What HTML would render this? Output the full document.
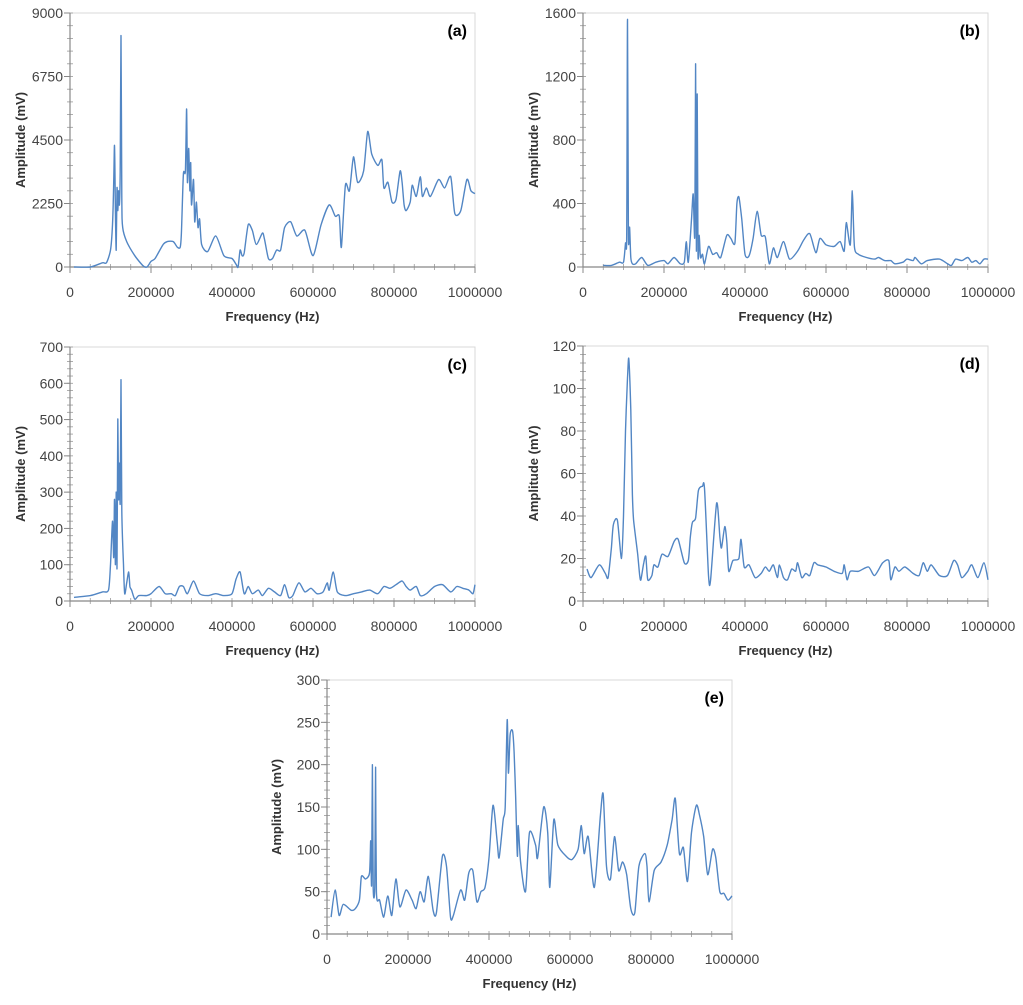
<!DOCTYPE html>
<html><head><meta charset="utf-8"><style>
body{margin:0;background:#fff;}
svg text{font-family:"Liberation Sans",sans-serif;}
</style></head><body>
<svg id="fig" width="1023" height="1000" viewBox="0 0 1023 1000"></svg>
<script>
const freqA=[10,50,80,90,100,105,108,110,112,114,116,118,120,122,124,126,128,130,140,160,180,190,200,210,230,240,255,265,272,275,280,285,288,290,293,296,298,300,305,308,312,316,320,325,340,360,380,400,410,415,420,425,430,440,450,460,475,480,490,500,510,520,530,545,560,580,600,620,640,655,665,670,680,690,700,710,725,735,745,760,770,775,785,795,805,815,820,825,830,840,845,855,865,870,880,890,910,925,940,950,965,980,990,1000];
const ampA=[0,0,150,150,600,1500,3000,4300,2000,600,2800,2000,2700,2200,3400,8200,2500,1400,900,400,50,0,200,300,800,900,900,700,700,1200,3300,3400,5600,3000,4200,2700,3700,2200,3100,1600,2300,1400,1700,800,550,1100,400,300,100,0,600,400,500,1500,1300,800,1200,1000,300,300,600,600,1400,1600,1100,1300,400,1500,2200,1800,1800,700,2900,2700,3900,3000,3400,4800,4000,3600,3800,2800,3000,2300,2400,3400,3000,2200,2000,2300,2900,2500,3200,2500,2800,2500,3100,2800,3200,1900,2000,3100,2700,2600];
const freqB=[50,70,90,100,105,108,110,112,115,118,122,130,145,160,180,200,210,225,240,250,255,260,268,272,276,278,280,282,284,287,290,295,300,310,320,330,340,355,365,375,380,385,392,400,410,420,430,440,450,460,470,480,495,510,530,545,560,575,585,600,620,635,645,650,660,665,670,680,700,720,730,745,760,770,790,800,815,820,835,850,880,900,910,920,935,950,960,970,980,990,1000];
const ampB=[10,10,30,30,150,200,1560,200,250,60,20,20,60,10,30,40,20,60,20,30,160,30,300,460,200,1280,100,1090,80,200,60,80,20,130,80,90,60,200,180,150,400,440,300,80,70,180,350,200,190,20,120,60,160,50,100,170,210,90,180,140,130,160,100,280,140,480,130,80,60,50,60,40,40,20,30,50,40,60,20,40,50,20,10,50,40,60,30,40,20,50,50];
const freqC=[10,50,80,95,100,105,108,110,112,114,116,118,120,122,124,126,128,132,135,140,145,148,152,160,170,190,200,220,235,250,260,270,280,290,305,320,340,360,380,400,410,420,430,440,450,465,475,490,505,520,530,540,550,565,580,595,610,625,635,640,650,660,680,700,720,740,760,775,790,805,820,830,840,855,865,880,900,920,940,955,970,985,995,1000];
const ampC=[10,15,25,30,100,220,120,280,100,300,90,500,280,380,270,610,250,100,20,50,80,40,30,5,15,15,20,40,20,20,15,40,40,20,55,20,15,20,15,20,60,80,20,40,20,30,15,35,25,15,45,10,15,50,25,35,20,25,50,30,80,25,15,20,25,30,20,40,35,45,55,40,30,40,15,20,40,45,25,40,35,30,20,45];
const freqD=[10,20,40,55,62,70,75,85,95,100,105,110,113,118,122,125,135,140,143,150,155,160,170,175,185,195,210,225,235,250,260,265,270,278,285,295,300,310,315,330,338,342,350,355,360,370,385,390,398,410,425,440,450,460,470,480,485,495,505,515,525,530,540,550,560,570,580,600,620,640,645,652,660,680,705,720,740,755,760,770,780,795,815,830,840,850,860,880,900,915,925,935,950,960,975,990,1000];
const ampD=[15,11,17,13,11,25,36,38,20,40,80,105,114,90,50,38,22,12,10,18,21,10,12,17,16,22,21,28,29,18,19,30,37,39,52,54,53,12,10,46,30,25,35,28,14,19,20,29,16,17,11,13,16,14,17,11,17,11,10,15,14,18,11,13,12,18,17,16,14,13,17,10,14,14,16,12,18,19,10,16,14,16,13,12,18,14,17,12,12,19,17,11,14,17,11,18,10];
const freqE=[10,20,30,40,60,70,80,85,95,105,108,110,112,114,118,120,122,130,140,150,160,170,180,195,210,220,230,240,250,262,270,285,295,305,312,330,340,350,360,370,380,390,400,410,420,425,435,440,445,448,452,458,462,466,470,472,478,490,500,515,520,535,545,550,560,570,590,605,620,628,635,645,660,675,682,690,700,710,720,730,740,750,760,770,785,790,795,808,825,840,852,860,870,880,890,900,912,920,930,940,952,960,970,980,990,1000];
const ampE=[20,52,22,35,28,30,40,68,65,72,110,58,200,55,57,197,50,40,20,45,22,65,32,52,40,30,50,38,68,28,25,92,80,20,22,52,40,72,75,38,50,55,90,152,110,90,135,150,253,190,235,240,215,160,92,128,85,50,120,105,90,150,120,55,135,105,92,88,100,128,95,115,55,140,165,80,65,115,75,85,70,30,25,80,95,80,38,75,85,105,135,160,95,102,62,120,152,140,115,70,100,90,50,48,40,45];
const yTicksA=[0,2250,4500,6750,9000], yTicksB=[0,400,800,1200,1600], yTicksC=[0,100,200,300,400,500,600,700], yTicksD=[0,20,40,60,80,100,120], yTicksE=[0,50,100,150,200,250,300];
const xTicks=[0,200000,400000,600000,800000,1000000];

const NS="http://www.w3.org/2000/svg";
const svg=document.getElementById('fig');
function mk(tag,attrs,parent){const e=document.createElementNS(NS,tag);for(const k in attrs)e.setAttribute(k,attrs[k]);(parent||svg).appendChild(e);return e;}

function smoothPath(P){
  let d='M'+P[0][0].toFixed(1)+','+P[0][1].toFixed(1);
  for(let i=0;i<P.length-1;i++){
    const p0=P[Math.max(0,i-1)],p1=P[i],p2=P[i+1],p3=P[Math.min(P.length-1,i+2)];
    const k=1/8;
    const c1=[p1[0]+(p2[0]-p0[0])*k,p1[1]+(p2[1]-p0[1])*k];
    const c2=[p2[0]-(p3[0]-p1[0])*k,p2[1]-(p3[1]-p1[1])*k];
    d+=' C'+c1[0].toFixed(1)+','+c1[1].toFixed(1)+' '+c2[0].toFixed(1)+','+c2[1].toFixed(1)+' '+p2[0].toFixed(1)+','+p2[1].toFixed(1);
  }
  return d;
}

function panel(id,x0,x1,yT,yB,freq,amp,yTicks,label,ytx){
  const g=mk('g',{});
  
  
  const yMax=yTicks[yTicks.length-1];
  const sx=f=>x0+(f/1000000)*(x1-x0);
  const sy=v=>yB-(v/yMax)*(yB-yT);
  const frame=mk('rect',{x:x0,y:yT,width:x1-x0,height:yB-yT,fill:'none',stroke:'#d9d9d9','stroke-width':1},g);
  
  
  const step=yTicks[1]-yTicks[0];
  for(let v=0;v<=yMax+1e-9;v+=step/5){mk('line',{x1:x0-3,x2:x0+3,y1:sy(v),y2:sy(v),stroke:'#999','stroke-width':0.8},g);}
  for(let f=0;f<=1000000;f+=50000){mk('line',{x1:sx(f),x2:sx(f),y1:yB-3,y2:yB+3,stroke:'#999','stroke-width':0.8},g);}
  const ya=mk('line',{x1:x0,x2:x0,y1:yT,y2:yB,stroke:'#888','stroke-width':1.2},g);
  
  
  const xa=mk('line',{x1:x0,x2:x1,y1:yB,y2:yB,stroke:'#888','stroke-width':1.2},g);
  
  
  yTicks.forEach(v=>{
    mk('line',{x1:x0-6,x2:x0,y1:sy(v),y2:sy(v),stroke:'#888'},g);
    const t=mk('text',{x:x0-7,y:sy(v)+5,'text-anchor':'end','font-size':14,fill:'#444'},g);
    t.textContent=v;
    
    
  });
  xTicks.forEach(f=>{
    mk('line',{x1:sx(f),x2:sx(f),y1:yB,y2:yB+6,stroke:'#888'},g);
    const t=mk('text',{x:sx(f),y:yB+30,'text-anchor':'middle','font-size':14,fill:'#444'},g);
    t.textContent=f;
    
    
  });
  const xt=mk('text',{x:(x0+x1)/2,y:yB+54,'text-anchor':'middle','font-size':13,'font-weight':'bold',fill:'#333'},g);
  xt.textContent='Frequency (Hz)';
  
  
  const cy=(yT+yB)/2;
  const yt=mk('text',{x:ytx,y:cy,'text-anchor':'middle','font-size':13,'font-weight':'bold',fill:'#333',transform:`rotate(-90 ${ytx} ${cy})`},g);
  yt.textContent='Amplitude (mV)';
  
  
  const lb=mk('text',{x:x1-8,y:yT+23,'text-anchor':'end','font-size':16,'font-weight':'bold',fill:'#000'},g);
  lb.textContent=label;
  
  
  const P=freq.map((f,i)=>[sx(f*1000),sy(amp[i])]);
  const pl=mk('path',{d:smoothPath(P),fill:'none',stroke:'#5286c4','stroke-width':1.4,'stroke-linejoin':'round'},g);
  
  
}
panel('a',70,475,13,267,freqA,ampA,yTicksA,'(a)',25);
panel('b',583,988,13,267,freqB,ampB,yTicksB,'(b)',538);
panel('c',70,475,347,601,freqC,ampC,yTicksC,'(c)',25);
panel('d',583,988,346,601,freqD,ampD,yTicksD,'(d)',538);
panel('e',327,732,680,934,freqE,ampE,yTicksE,'(e)',281);
</script>
</body></html>
